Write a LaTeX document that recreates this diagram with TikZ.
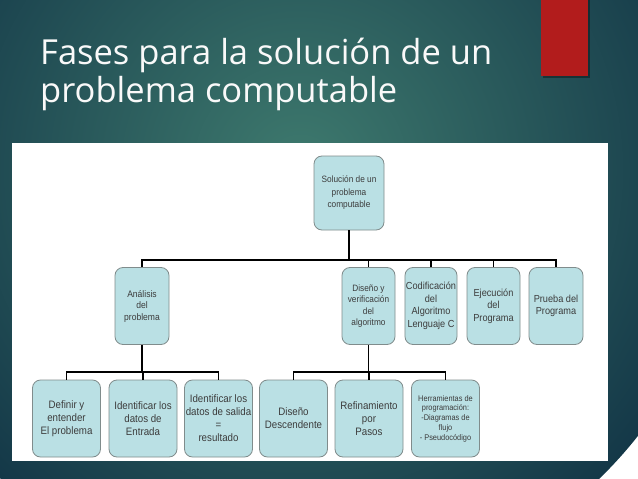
\documentclass[tikz,border=0pt]{standalone}
\usepackage{fontspec}
\setmainfont{Liberation Sans}
\newfontfamily\titlefont{Open Sans}
\newfontfamily\boxfont[FakeStretch=0.9]{Liberation Sans}
\definecolor{bgin}{RGB}{62,122,110}
\definecolor{bgout}{RGB}{20,56,72}
\definecolor{redbar}{RGB}{178,28,28}
\definecolor{boxfill}{RGB}{186,224,228}
\definecolor{boxline}{RGB}{128,140,140}
\definecolor{boxtext}{RGB}{60,60,60}
\tikzset{
  x=1pt, y=-1pt,
  box/.style={draw=boxline, line width=0.8pt, fill=boxfill, rounded corners=8pt,
    align=center, text=boxtext, inner sep=1pt, minimum height=77pt},
  lvA/.style={box, minimum width=54pt},
  lvB/.style={box, minimum width=68pt},
  conn/.style={draw=black, line width=1.6pt},
  titletext/.style={anchor=base west, inner sep=0pt, text=white!95!gray,
    font=\titlefont\fontsize{34.5}{38}\selectfont}
}
\begin{document}
\begin{tikzpicture}
\useasboundingbox (0,0) rectangle (638,479);
\begin{scope}
  \clip (0,0) rectangle (638,479);
  \shade[inner color=bgin, outer color=bgout] (300,170) circle (430);
\end{scope}
% red bar
\fill[black, opacity=0.35] (543,0) rectangle (590,78);
\fill[redbar] (541,0) rectangle (588,76);
% title
\node[titletext] (title1) at (40,64) {Fases para la solución de un};
\node[titletext] (title2) at (40,102) {problema computable};
% white panel
\fill[white] (12,143) rectangle (608,461);

% nodes
\node[box, minimum width=70pt, minimum height=74pt,
  font=\boxfont\fontsize{9.2}{12.5}\selectfont] (root) at (349,193)
  {Solución de un\\problema\\computable};

\node[lvA, font=\boxfont\fontsize{9.5}{11.5}\selectfont] (ana) at (142,306)
  {Análisis\\del\\problema};
\node[lvA, minimum width=53pt, font=\boxfont\fontsize{9.2}{11.5}\selectfont] (dis) at (368.5,306)
  {Diseño y\\verificación\\del\\algoritmo};
\node[lvA, minimum width=52pt, font=\boxfont\fontsize{10.2}{12.5}\selectfont] (cod) at (431,306)
  {Codificación\\del\\Algoritmo\\Lenguaje C};
\node[lvA, minimum width=53pt, font=\boxfont\fontsize{10.2}{12.5}\selectfont] (eje) at (493.5,306)
  {Ejecución\\del\\Programa};
\node[lvA, font=\boxfont\fontsize{10.2}{12.5}\selectfont] (pru) at (556,306)
  {Prueba del\\Programa};

\node[lvB, font=\boxfont\fontsize{10.8}{13}\selectfont] (def) at (66.5,418.5)
  {Definir y\\entender\\El problema};
\node[lvB, font=\boxfont\fontsize{10.8}{13}\selectfont] (ide) at (143,418.5)
  {Identificar los\\datos de\\Entrada};
\node[lvB, font=\boxfont\fontsize{10.8}{13}\selectfont] (ids) at (218.5,418.5)
  {Identificar los\\datos de salida\\=\\resultado};
\node[lvB, font=\boxfont\fontsize{10.8}{13}\selectfont] (des) at (293.5,418.5)
  {Diseño\\Descendente};
\node[lvB, font=\boxfont\fontsize{10.8}{13}\selectfont] (ref) at (369,418.5)
  {Refinamiento\\por\\Pasos};
\node[lvB, font=\boxfont\fontsize{8.2}{9.8}\selectfont] (her) at (445.5,418.5)
  {Herramientas de\\programación:\\-Diagramas de\\flujo\\- Pseudocódigo};

% connectors
\coordinate (busA) at (0,260);
\coordinate (busB) at (0,372);
\draw[conn] (root.south) -- (root.south |- busA);
\draw[conn] (ana.north) -- (ana.north |- busA) -- (pru.north |- busA) -- (pru.north);
\draw[conn] (dis.north) -- (dis.north |- busA);
\draw[conn] (cod.north) -- (cod.north |- busA);
\draw[conn] (eje.north) -- (eje.north |- busA);

\draw[conn] (ana.south) -- (ana.south |- busB);
\draw[conn] (def.north) -- (def.north |- busB) -- (ids.north |- busB) -- (ids.north);
\draw[conn] (ide.north) -- (ide.north |- busB);

\draw[conn] (dis.south) -- (dis.south |- busB);
\draw[conn] (des.north) -- (des.north |- busB) -- (her.north |- busB) -- (her.north);
\draw[conn] (ref.north) -- (ref.north |- busB);
\end{tikzpicture}
\end{document}
